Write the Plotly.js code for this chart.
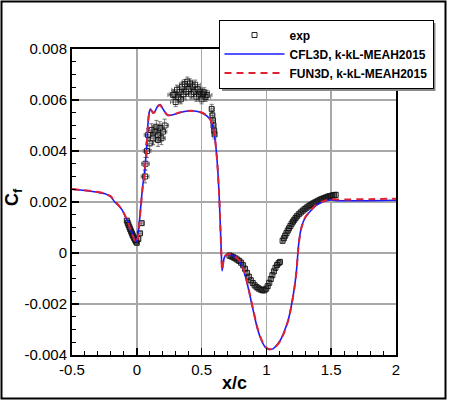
<!DOCTYPE html>
<html>
<head>
<meta charset="utf-8">
<script src="https://cdn.plot.ly/plotly-3.0.1.min.js"></script>
<style>
html,body{margin:0;padding:0;background:#fff;}
#chart{width:450px;height:401px;}
</style>
</head>
<body>
<div id="chart"></div>
<script>
// ---- Data ----
var legendNames = ["exp", "CFL3D, k-kL-MEAH2015", "FUN3D, k-kL-MEAH2015"];

var cfl3dX = [-0.5,-0.4,-0.3,-0.25,-0.2,-0.17,-0.14,-0.115,-0.09,-0.07,-0.05,-0.03,-0.015,-0.005,0.005,0.015,0.03,0.045,0.06,0.075,0.085,0.095,0.105,0.115,0.125,0.14,0.16,0.18,0.19,0.21,0.24,0.28,0.33,0.38,0.42,0.46,0.50,0.54,0.57,0.59,0.605,0.62,0.635,0.645,0.652,0.658,0.665,0.675,0.69,0.715,0.75,0.79,0.82,0.845,0.87,0.90,0.93,0.96,0.99,1.02,1.05,1.08,1.11,1.14,1.17,1.195,1.215,1.23,1.24,1.25,1.27,1.30,1.34,1.38,1.42,1.46,1.50,1.55,1.6,1.8,2.0];
var cfl3dY = [0.00250,0.00245,0.00238,0.00233,0.00220,0.00200,0.00185,0.00170,0.00145,0.00125,0.00095,0.00070,0.00050,0.00045,0.00060,0.00095,0.00180,0.00260,0.00320,0.00410,0.00500,0.00550,0.00565,0.00558,0.00550,0.00555,0.00575,0.00582,0.00575,0.00558,0.00540,0.00542,0.00550,0.00556,0.00558,0.00556,0.00550,0.00538,0.00520,0.00490,0.00440,0.00360,0.00230,0.00100,0.00000,-0.00070,-0.00045,-0.00018,-0.00008,-0.00006,-0.00012,-0.00030,-0.00060,-0.00105,-0.00160,-0.00230,-0.00295,-0.00340,-0.00368,-0.00378,-0.00376,-0.00362,-0.00340,-0.00305,-0.00260,-0.00200,-0.00140,-0.00080,-0.00020,0.00040,0.00100,0.00140,0.00165,0.00185,0.00197,0.00205,0.00208,0.00205,0.00205,0.00205,0.00207];

var fun3dX = [-0.5,-0.4,-0.3,-0.25,-0.2,-0.17,-0.14,-0.115,-0.09,-0.07,-0.05,-0.03,-0.015,-0.005,0.005,0.015,0.03,0.045,0.06,0.075,0.085,0.095,0.105,0.115,0.125,0.14,0.16,0.18,0.19,0.21,0.24,0.28,0.33,0.38,0.42,0.46,0.50,0.54,0.57,0.59,0.605,0.62,0.635,0.645,0.652,0.658,0.665,0.675,0.69,0.715,0.75,0.79,0.82,0.845,0.87,0.90,0.93,0.96,0.99,1.02,1.05,1.08,1.11,1.14,1.17,1.195,1.215,1.23,1.24,1.25,1.27,1.30,1.34,1.38,1.42,1.46,1.50,1.55,1.6,1.8,2.0];
var fun3dY = [0.00251,0.00246,0.00239,0.00234,0.00222,0.00203,0.00187,0.00171,0.00146,0.00124,0.00093,0.00067,0.00046,0.00040,0.00052,0.00090,0.00175,0.00255,0.00318,0.00405,0.00495,0.00548,0.00563,0.00557,0.00549,0.00554,0.00574,0.00580,0.00574,0.00557,0.00540,0.00543,0.00551,0.00557,0.00558,0.00556,0.00551,0.00539,0.00521,0.00491,0.00441,0.00362,0.00232,0.00102,0.00002,-0.00068,-0.00044,-0.00017,-0.00007,-0.00005,-0.00011,-0.00029,-0.00058,-0.00102,-0.00157,-0.00226,-0.00292,-0.00338,-0.00367,-0.00377,-0.00376,-0.00363,-0.00342,-0.00308,-0.00262,-0.00203,-0.00142,-0.00082,-0.00022,0.00038,0.00098,0.00140,0.00166,0.00187,0.00199,0.00207,0.00211,0.00210,0.00210,0.00211,0.00213];

// experiment: leading-edge cluster
var expLeX = [-0.077,-0.070,-0.064,-0.057,-0.051,-0.044,-0.038,-0.032,-0.026,-0.019,-0.013,-0.006,0.000,0.012,0.025,0.038];
var expLeY = [0.00127,0.00118,0.00110,0.00101,0.00093,0.00085,0.00077,0.00070,0.00064,0.00057,0.00051,0.00045,0.00040,0.00055,0.00077,0.00117];
// experiment: suction peak region
var expPkX = [0.064,0.067,0.079,0.087,0.100,0.113,0.126,0.138,0.151,0.164,0.164,0.177,0.190,0.202,0.215];
var expPkY = [0.00300,0.00350,0.00400,0.00463,0.00430,0.00482,0.00450,0.00476,0.00495,0.00463,0.00443,0.00490,0.00450,0.00476,0.00500];
// experiment: plateau (high)
var expHiX = [0.28,0.29,0.30,0.31,0.32,0.33,0.34,0.35,0.36,0.37,0.38,0.39,0.40,0.41,0.42,0.43,0.44,0.45,0.46,0.47,0.48,0.49,0.50,0.51,0.52,0.53,0.54];
var expHiY = [0.00620,0.00622,0.00592,0.00640,0.00610,0.00632,0.00603,0.00652,0.00622,0.00662,0.00632,0.00672,0.00643,0.00665,0.00622,0.00652,0.00632,0.00660,0.00613,0.00642,0.00622,0.00633,0.00603,0.00622,0.00630,0.00612,0.00620];
// experiment: before shock
var expShX = [0.578,0.583,0.588,0.592,0.597,0.600];
var expShY = [0.00565,0.00540,0.00520,0.00500,0.00480,0.00465];
// experiment: separated region
var expSepX = [0.715,0.73,0.745,0.76,0.775,0.79,0.805,0.82,0.835,0.85,0.865,0.88,0.895,0.91,0.925,0.94,0.955,0.97,0.985,0.998,1.01,1.022,1.034,1.046,1.058,1.07,1.082,1.094,1.105];
var expSepY = [-0.00010,-0.00013,-0.00017,-0.00021,-0.00026,-0.00031,-0.00038,-0.00048,-0.00062,-0.00078,-0.00093,-0.00107,-0.00118,-0.00127,-0.00134,-0.00139,-0.00143,-0.00146,-0.00146,-0.00140,-0.00130,-0.00117,-0.00102,-0.00087,-0.00072,-0.00058,-0.00047,-0.00040,-0.00035];
// experiment: recovery region
var expRecX = [1.125,1.135,1.145,1.155,1.165,1.175,1.185,1.195,1.205,1.215,1.225,1.235,1.25,1.265,1.28,1.295,1.31,1.325,1.34,1.355,1.37,1.385,1.40,1.415,1.43,1.445,1.46,1.475,1.49,1.505,1.52,1.535];
var expRecY = [0.00048,0.00058,0.00068,0.00078,0.00088,0.00097,0.00106,0.00115,0.00123,0.00130,0.00137,0.00144,0.00152,0.00159,0.00166,0.00172,0.00178,0.00183,0.00188,0.00193,0.00197,0.00201,0.00205,0.00209,0.00212,0.00215,0.00218,0.00221,0.00223,0.00225,0.00227,0.00228];

var xTickVals = [-0.5, 0, 0.5, 1, 1.5, 2];
var xTickText = ["-0.5", "0", "0.5", "1", "1.5", "2"];
var yTickVals = [-0.004, -0.002, 0, 0.002, 0.004, 0.006, 0.008];
var yTickText = ["-0.004", "-0.002", "0", "0.002", "0.004", "0.006", "0.008"];

// ---- Styling ----
var FONT = "Liberation Sans, Arial, Helvetica, sans-serif";
function expTrace(xs, ys, ex, ey, show) {
  return {
    x: xs, y: ys, type: "scatter", mode: "markers",
    name: legendNames[0], legendgroup: "exp", showlegend: show,
    marker: {symbol: "square-open", size: 5, color: "#111", line: {width: 0.9, color: "#111"}},
    error_x: {type: "constant", value: ex, color: "#666", thickness: 0.9, width: 2},
    error_y: {type: "constant", value: ey, color: "#666", thickness: 0.9, width: 2}
  };
}

var traces = [
  expTrace(expLeX, expLeY, 0.015, 0.00008, true),
  expTrace(expPkX, expPkY, 0.03, 0.00025, false),
  expTrace(expHiX, expHiY, 0.04, 0.00018, false),
  expTrace(expShX, expShY, 0.015, 0.00018, false),
  expTrace(expSepX, expSepY, 0.009, 0.0001, false),
  expTrace(expRecX, expRecY, 0.009, 0.0001, false),
  {x: cfl3dX, y: cfl3dY, type: "scatter", mode: "lines", name: legendNames[1],
   line: {color: "#1a1aff", width: 1.6, shape: "spline", smoothing: 0.6}},
  {x: fun3dX, y: fun3dY, type: "scatter", mode: "lines", name: legendNames[2],
   line: {color: "#dd2233", width: 2, dash: "7px,5px", shape: "spline", smoothing: 0.6}}
];

// plot area: x 72..396 px, y 49..355 px
function px(p) { return (p - 72) / 324; }
function py(p) { return (355 - p) / 306; }

var layout = {
  width: 450, height: 401,
  margin: {l: 72, r: 54, t: 49, b: 46, pad: 0},
  paper_bgcolor: "#fff", plot_bgcolor: "#fff",
  font: {family: FONT, color: "#000", size: 15},
  showlegend: true,
  xaxis: {
    range: [-0.5, 2], tickvals: xTickVals, ticktext: xTickText,
    showgrid: true, gridcolor: "#a8a8a8", gridwidth: 1.5,
    zeroline: false, showline: true, linecolor: "#000", linewidth: 2, mirror: true,
    ticks: "inside", ticklen: 7, tickwidth: 1.5, tickcolor: "#000",
    minor: {dtick: 0.1, ticks: "inside", ticklen: 4, tickwidth: 1, tickcolor: "#000", showgrid: false},
    tickfont: {family: FONT, size: 15, color: "#000"}
  },
  yaxis: {
    range: [-0.004, 0.008], tickvals: yTickVals, ticktext: yTickText,
    showgrid: true, gridcolor: "#a8a8a8", gridwidth: 1.5,
    zeroline: false, showline: true, linecolor: "#000", linewidth: 2, mirror: true,
    ticks: "inside", ticklen: 7, tickwidth: 1.5, tickcolor: "#000",
    minor: {dtick: 0.0005, ticks: "inside", ticklen: 4, tickwidth: 1, tickcolor: "#000", showgrid: false},
    tickfont: {family: FONT, size: 15, color: "#000"}
  },
  legend: {
    x: px(218.5), y: py(19.5), xanchor: "left", yanchor: "top",
    bgcolor: "#fff", bordercolor: "#000", borderwidth: 1,
    font: {family: FONT, size: 12, color: "#000", weight: "bold"},
    itemwidth: 60, tracegroupgap: 0, traceorder: "normal"
  },
  annotations: [
    {xref: "paper", yref: "paper", x: px(234), y: py(383), text: "<b>x/c</b>",
     showarrow: false, font: {family: FONT, size: 18, color: "#000"}, xanchor: "center", yanchor: "middle"},
    {xref: "paper", yref: "paper", x: px(14), y: py(197), text: "<b>C<sub>f</sub></b>", textangle: -90,
     showarrow: false, font: {family: FONT, size: 18, color: "#000"}, xanchor: "center", yanchor: "middle"}
  ],
  shapes: [
    {type: "rect", xref: "paper", yref: "paper", x0: px(1.5), x1: px(445.5), y0: py(398.5), y1: py(1.5),
     line: {color: "#000", width: 2}, fillcolor: "rgba(0,0,0,0)", layer: "above"},
    {type: "rect", xref: "paper", yref: "paper", x0: px(222), x1: px(435.5), y0: py(91), y1: py(23),
     line: {width: 0}, fillcolor: "#8a8a8a", layer: "above"}
  ]
};

Plotly.newPlot("chart", traces, layout, {displayModeBar: false, staticPlot: true});
</script>
</body>
</html>
